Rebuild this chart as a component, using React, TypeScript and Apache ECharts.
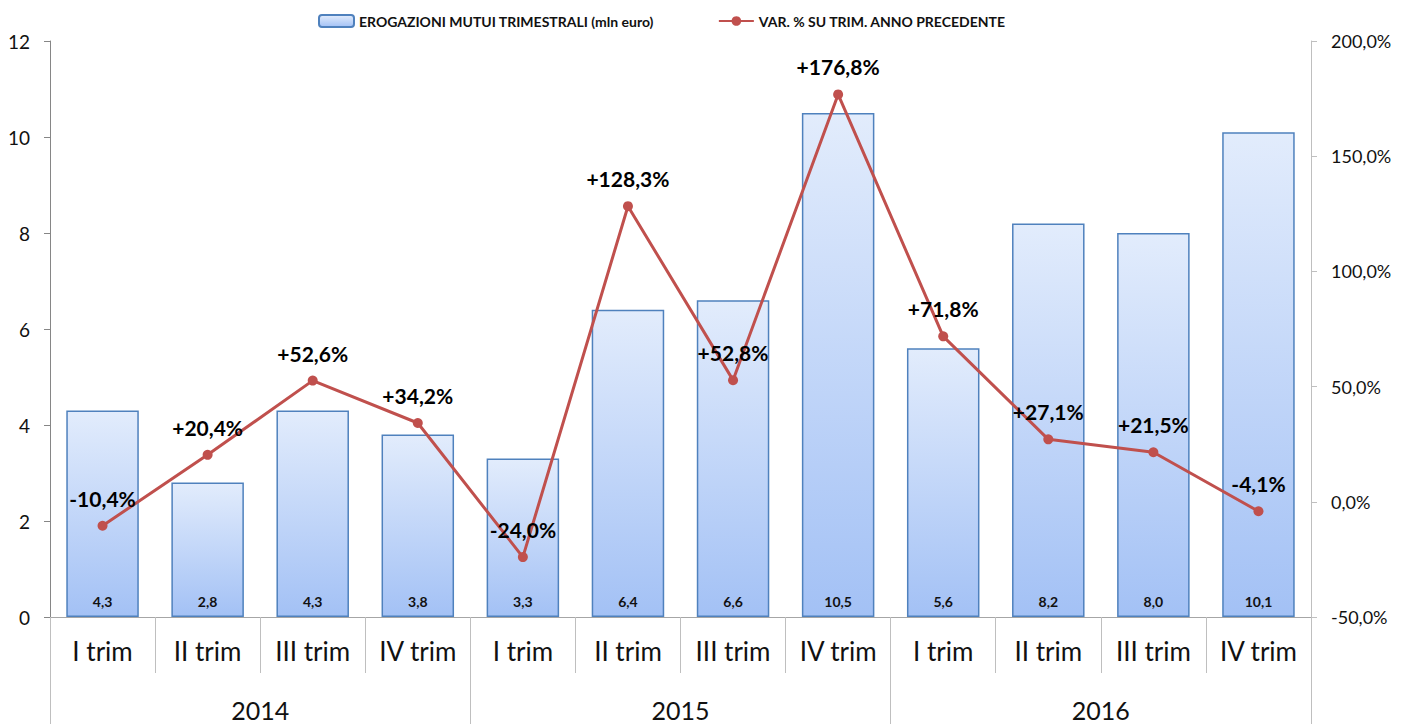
import React, { useEffect, useRef } from "react";
import * as echarts from "echarts";

const quarters = ["I trim", "II trim", "III trim", "IV trim", "I trim", "II trim", "III trim", "IV trim", "I trim", "II trim", "III trim", "IV trim"];
const years = ["2014", "2015", "2016"];
const erogazioni = [4.3, 2.8, 4.3, 3.8, 3.3, 6.4, 6.6, 10.5, 5.6, 8.2, 8.0, 10.1];
const variazione = [-10.4, 20.4, 52.6, 34.2, -24.0, 128.3, 52.8, 176.8, 71.8, 27.1, 21.5, -4.1];
const barName = "EROGAZIONI MUTUI TRIMESTRALI (mln euro)";
const lineName = "VAR. % SU TRIM. ANNO PRECEDENTE";

const FONT = "Lato, 'Noto Sans', sans-serif";
const comma = (v: number, d: number) => v.toFixed(d).replace(".", ",");

export default function App() {
  const ref = useRef<HTMLDivElement>(null);
  useEffect(() => {
    if (!ref.current) return;
    const chart = echarts.init(ref.current, null, { renderer: "svg" });
    chart.setOption({
      animation: false,
      textStyle: { fontFamily: FONT },
      legend: {
        top: 14,
        left: 318,
        padding: 0,
        itemWidth: 35,
        itemHeight: 12,
        itemGap: 64,
        textStyle: { fontFamily: FONT, fontWeight: "bold", fontSize: 14, color: "#111" },
        data: [barName, lineName],
      },
      grid: { left: 50, right: 99, top: 41, bottom: 107 },
      xAxis: [
        {
          type: "category",
          data: quarters,
          position: "bottom",
          axisLine: { show: true, onZero: false, lineStyle: { color: "#A6A6A6", width: 1 } },
          axisTick: { show: true, inside: false, length: 56, lineStyle: { color: "#BFBFBF" } },
          axisLabel: { fontFamily: FONT, fontSize: 26, color: "#111", margin: 21 },
        },
        {
          type: "category",
          data: years,
          position: "bottom",
          offset: 0,
          axisLine: { show: false, onZero: false },
          axisTick: { show: true, inside: false, length: 110, lineStyle: { color: "#BFBFBF" } },
          axisLabel: { fontFamily: FONT, fontSize: 25, color: "#111", margin: 80 },
          splitLine: { show: false },
        },
      ],
      yAxis: [
        {
          type: "value",
          min: 0,
          max: 12,
          interval: 2,
          axisLine: { show: true, lineStyle: { color: "#868686" } },
          axisTick: { show: true, length: 6, lineStyle: { color: "#868686" } },
          splitLine: { show: false },
          axisLabel: { fontFamily: FONT, fontSize: 19, color: "#111", margin: 20 },
        },
        {
          type: "value",
          min: -50,
          max: 200,
          interval: 50,
          position: "right",
          axisLine: { show: true, lineStyle: { color: "#BFBFBF" } },
          axisTick: { show: true, length: 6, lineStyle: { color: "#BFBFBF" } },
          splitLine: { show: false },
          axisLabel: {
            fontFamily: FONT,
            fontSize: 18,
            color: "#111",
            margin: 20,
            formatter: (v: number) => comma(v, 1) + "%",
          },
        },
      ],
      series: [
        {
          name: barName,
          type: "bar",
          xAxisIndex: 0,
          yAxisIndex: 0,
          data: erogazioni,
          barWidth: "69%",
          itemStyle: {
            color: new echarts.graphic.LinearGradient(0, 0, 0, 1, [
              { offset: 0, color: "#E2ECFC" },
              { offset: 1, color: "#A3C1F5" },
            ]),
            borderColor: "#4F81BD",
            borderWidth: 1.5,
          },
          label: {
            show: true,
            position: "insideBottom",
            distance: 9,
            fontFamily: FONT,
            fontWeight: "bold",
            fontSize: 14,
            color: "#111",
            formatter: (p: any) => comma(p.value, 1),
          },
        },
        {
          name: lineName,
          type: "line",
          xAxisIndex: 0,
          yAxisIndex: 1,
          data: variazione,
          symbol: "circle",
          symbolSize: 10,
          lineStyle: { color: "#C0504D", width: 3 },
          itemStyle: { color: "#C0504D" },
          label: {
            show: true,
            position: "top",
            distance: 12,
            fontFamily: FONT,
            fontWeight: "bold",
            fontSize: 21,
            color: "#000",
            formatter: (p: any) => (p.value > 0 ? "+" : "") + comma(p.value, 1) + "%",
          },
          z: 5,
        },
      ],
    });
    return () => chart.dispose();
  }, []);
  return <div ref={ref} style={{ width: 1410, height: 724, position: "absolute", left: 0, top: 0 }} />;
}
